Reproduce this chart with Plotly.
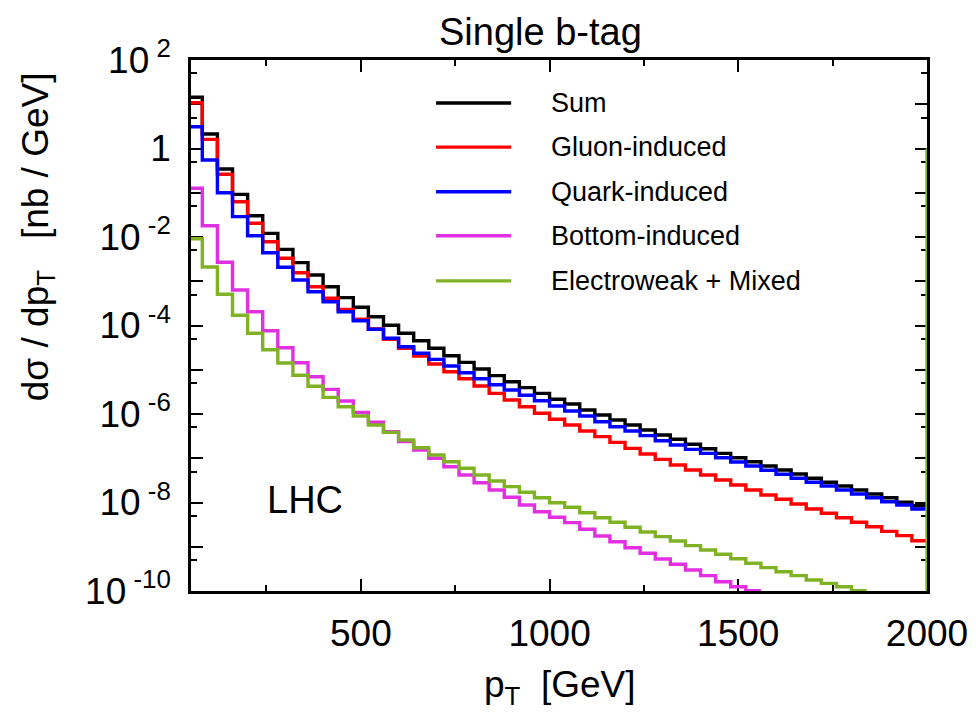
import plotly.graph_objects as go

# ---------------- data ----------------
# bin edges in p_T [GeV]; first bin is the partial 50-80 bin
pt_edges = [50] + list(range(80, 2001, 40))

sum_vals = [1.44e1, 2.13e0, 3.44e-1, 9.2e-2, 3.03e-2, 1.21e-2, 5.26e-3, 2.63e-3, 1.38e-3, 7.53e-4,
            4.26e-4, 2.58e-4, 1.58e-4, 1.01e-4, 6.67e-5, 4.54e-5, 3.05e-5, 2.08e-5, 1.47e-5, 1.04e-5,
            7.35e-6, 5.37e-6, 3.94e-6, 2.93e-6, 2.15e-6, 1.68e-6, 1.23e-6, 9.48e-7, 7.31e-7, 5.64e-7,
            4.35e-7, 3.35e-7, 2.68e-7, 2.07e-7, 1.64e-7, 1.29e-7, 1.03e-7, 8.36e-8, 6.68e-8, 5.42e-8,
            4.41e-8, 3.52e-8, 2.86e-8, 2.36e-8, 1.91e-8, 1.56e-8, 1.28e-8, 1.01e-8, 8.47e-9]

gluon_vals = [1.08e1, 1.61e0, 2.61e-1, 6.28e-2, 2.04e-2, 7.83e-3, 3.30e-3, 1.56e-3, 7.53e-4, 4.12e-4,
              2.32e-4, 1.38e-4, 8.34e-5, 4.88e-5, 3.05e-5, 2.05e-5, 1.35e-5, 9.04e-6, 6.28e-6, 4.30e-6,
              2.93e-6, 2.07e-6, 1.46e-6, 1.04e-6, 7.59e-7, 5.64e-7, 4.13e-7, 3.08e-7, 2.29e-7, 1.67e-7,
              1.25e-7, 9.44e-8, 7.03e-8, 5.42e-8, 4.18e-8, 3.22e-8, 2.48e-8, 1.91e-8, 1.48e-8, 1.18e-8,
              9.25e-9, 7.13e-9, 5.70e-9, 4.54e-9, 3.57e-9, 2.84e-9, 2.23e-9, 1.78e-9, 1.37e-9]

quark_vals = [3.11e0, 5.50e-1, 1.00e-1, 2.88e-2, 1.07e-2, 4.42e-3, 2.07e-3, 1.07e-3, 5.81e-4, 3.45e-4,
              2.05e-4, 1.28e-4, 8.20e-5, 5.14e-5, 3.32e-5, 2.36e-5, 1.72e-5, 1.22e-5, 8.57e-6, 6.28e-6,
              4.59e-6, 3.48e-6, 2.65e-6, 2.00e-6, 1.52e-6, 1.17e-6, 9.02e-7, 6.70e-7, 5.16e-7, 4.13e-7,
              3.24e-7, 2.49e-7, 1.99e-7, 1.59e-7, 1.29e-7, 1.03e-7, 8.22e-8, 6.68e-8, 5.35e-8, 4.34e-8,
              3.52e-8, 2.86e-8, 2.36e-8, 1.91e-8, 1.56e-8, 1.28e-8, 1.04e-8, 8.79e-9, 7.13e-9]

bottom_vals = [1.26e-1, 1.80e-2, 2.68e-3, 6.34e-4, 2.05e-4, 7.62e-5, 3.15e-5, 1.44e-5, 6.97e-6, 3.61e-6,
               1.97e-6, 1.09e-6, 6.49e-7, 3.98e-7, 2.37e-7, 1.53e-7, 1.00e-7, 6.44e-8, 4.18e-8, 2.80e-8,
               1.91e-8, 1.31e-8, 8.79e-9, 6.19e-9, 4.63e-9, 3.50e-9, 2.48e-9, 1.75e-9, 1.30e-9, 9.53e-10,
               7.11e-10, 5.28e-10, 4.01e-10, 2.99e-10, 2.22e-10, 1.62e-10, 1.25e-10, 1.02e-10]

ew_vals = [9.16e-3, 2.10e-3, 5.09e-4, 1.70e-4, 6.67e-5, 2.84e-5, 1.42e-5, 7.50e-6, 4.23e-6, 2.38e-6,
           1.46e-6, 9.02e-7, 5.64e-7, 3.85e-7, 2.58e-7, 1.73e-7, 1.18e-7, 8.36e-8, 5.93e-8, 4.18e-8,
           3.06e-8, 2.28e-8, 1.70e-8, 1.28e-8, 9.89e-9, 7.80e-9, 5.87e-9, 4.54e-9, 3.57e-9, 2.75e-9,
           2.15e-9, 1.69e-9, 1.35e-9, 1.06e-9, 8.45e-10, 6.75e-10, 5.37e-10, 4.23e-10, 3.37e-10, 2.73e-10,
           2.22e-10, 1.77e-10, 1.49e-10, 1.25e-10, 1.02e-10]
ew_end_value = 1.0   # value the EW line jumps up to at the last edge (p_T = 2000)

series_names = ["Sum", "Gluon-induced", "Quark-induced", "Bottom-induced", "Electroweak + Mixed"]
series_vals = [sum_vals, gluon_vals, quark_vals, bottom_vals, ew_vals]
series_colors = ["#000000", "#ff0000", "#0000ff", "#e22fe2", "#80b226"]

x_tickvals = [500, 1000, 1500, 2000]
x_ticktext = ["500", "1000", "1500", "2000"]
x_minor = [250, 750, 1250, 1750]

y_exponents = list(range(-10, 3))
y_tickvals = [10.0 ** e for e in y_exponents]
y_ticktext = ["" if e % 2 else ("1" if e == 0 else f"10<sup> {e}</sup>") for e in y_exponents]
y_minor = [5 * 10.0 ** e for e in range(-10, 2)]

Y_MIN_EXP, Y_MAX_EXP = -10, 2

# ---------------- figure ----------------
FONT = "Liberation Sans, Arial, Helvetica, sans-serif"
LW = 3.4
fig = go.Figure()

for vals, color in zip(series_vals, series_colors):
    n = len(vals)
    fig.add_trace(go.Scatter(
        x=pt_edges[:n + 1], y=list(vals) + [vals[-1]],
        mode="lines", line=dict(color=color, width=LW, shape="hv"),
        showlegend=False, hoverinfo="skip"))

# EW line rising at the final edge
fig.add_trace(go.Scatter(
    x=[pt_edges[-1], pt_edges[-1]], y=[10.0 ** Y_MIN_EXP, ew_end_value],
    mode="lines", line=dict(color=series_colors[4], width=LW),
    showlegend=False, hoverinfo="skip"))

axis_common = dict(
    showgrid=False, zeroline=False, showline=True, linecolor="black", linewidth=2.5,
    mirror="allticks", ticks="inside", tickcolor="black", tickwidth=2, ticklen=12,
    tickmode="array", layer="below traces", automargin=False,
    tickfont=dict(family=FONT, size=37, color="black"),
)

fig.update_xaxes(range=[50, 2000], tickvals=x_tickvals, ticktext=x_ticktext,
                 ticklabelstandoff=8,
                 minor=dict(tickmode="array", tickvals=x_minor, ticks="inside",
                            ticklen=6, tickwidth=2, tickcolor="black", showgrid=False),
                 **axis_common)
fig.update_yaxes(type="log", range=[Y_MIN_EXP, Y_MAX_EXP], tickvals=y_tickvals,
                 ticktext=y_ticktext, ticklabelstandoff=10,
                 minor=dict(tickmode="array", tickvals=y_minor, ticks="inside",
                            ticklen=6, tickwidth=2, tickcolor="black", showgrid=False),
                 **axis_common)

# manual legend (long line samples as in the reference)
legend_rows = [0.919, 0.836, 0.752, 0.669, 0.584]
shapes = []
annotations = []
for name, color, yr in zip(series_names, series_colors, legend_rows):
    shapes.append(dict(type="line", xref="paper", yref="paper", x0=0.333, x1=0.435,
                       y0=yr, y1=yr, line=dict(color=color, width=LW)))
    annotations.append(dict(xref="paper", yref="paper", x=0.487, y=yr, text=name,
                            showarrow=False, xanchor="left", yanchor="middle",
                            font=dict(family=FONT, size=27, color="black")))

annotations += [
    dict(xref="paper", yref="paper", x=0.4755, y=1.052, text="Single b-tag", showarrow=False,
         xanchor="center", yanchor="middle", font=dict(family=FONT, size=38, color="black")),
    dict(xref="paper", yref="paper", x=0.155, y=0.171, text="LHC", showarrow=False,
         xanchor="center", yanchor="middle", font=dict(family=FONT, size=38, color="black")),
    dict(xref="paper", yref="paper", x=0.501, y=-0.18,
         text="p<sub>T</sub>\u00a0\u00a0[GeV]", showarrow=False,
         xanchor="center", yanchor="middle", font=dict(family=FONT, size=37, color="black")),
    dict(xref="paper", yref="paper", x=-0.208, y=0.668, textangle=-90,
         text="d\u03c3 / dp<sub>T</sub>\u00a0\u00a0\u00a0[nb / GeV]", showarrow=False,
         xanchor="center", yanchor="middle", font=dict(family=FONT, size=37, color="black")),
]

# the page adds an 8 px body margin, so the margins are offset to land the plot
# area at the same pixels as the reference (x 191-927, y 60-591)
fig.update_layout(
    width=976, height=716,
    margin=dict(l=183, r=57, t=52, b=133),
    plot_bgcolor="white", paper_bgcolor="white",
    font=dict(family=FONT, size=37, color="black"),
    showlegend=False, shapes=shapes, annotations=annotations,
)

fig.write_html("out.html")
